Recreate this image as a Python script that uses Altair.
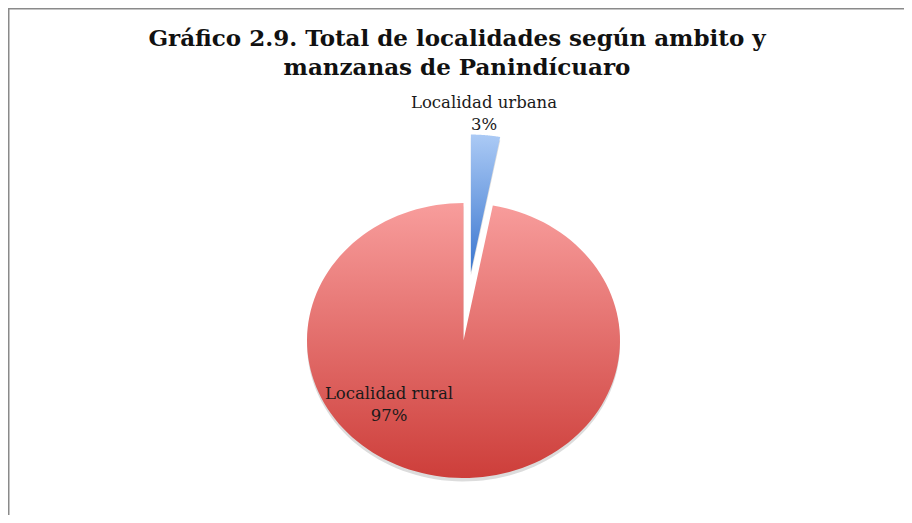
import altair as alt
import pandas as pd

# ---- data ----
categories = ["Localidad urbana", "Localidad rural"]
shares = [3, 97]
title_lines = ["Gráfico 2.9. Total de localidades según ambito y",
               "manzanas de Panindícuaro"]

df = pd.DataFrame({"cat": categories, "share": shares})

# ---- layout (page pixels) ----
W, H = 896, 507
cx_page, cy_page = 463.5, 340.5     # pie centre
rx, ry = 156.5, 137.5               # pie radii (elliptical, as in the reference)
xmin = -(cx_page - 8) / rx
xmax = xmin + W / rx
ymax = (cy_page - 8) / ry
ymin = ymax - H / ry
xs = alt.Scale(domain=[xmin, xmax], nice=False, zero=False)
ys = alt.Scale(domain=[ymin, ymax], nice=False, zero=False)

N = 140
base = (
    alt.Chart(df)
    .transform_window(cum="sum(share)", frame=[None, 0])
    .transform_calculate(start="datum.cum - datum.share",
                         pts=f"sequence(0, {N + 2})")
    .transform_flatten(["pts"])
    .transform_calculate(
        ang=f"2*PI*(datum.start + datum.share*(datum.pts-1)/{N})/100",
        r="datum.pts == 0 ? 0 : 1",
        mid="2*PI*(datum.start + datum.share/2)/100",
        ex="datum.cat == 'Localidad urbana' ? 0.5 : 0",
        px="datum.r*sin(datum.ang) + datum.ex*sin(datum.mid)",
        py="datum.r*cos(datum.ang) + datum.ex*cos(datum.mid)",
        pys="datum.py - 0.025",
    )
)

def grad(c0, c1):
    return alt.Gradient(gradient="linear",
                        stops=[alt.GradientStop(color=c0, offset=0),
                               alt.GradientStop(color=c1, offset=1)],
                        x1=0, x2=0, y1=0, y2=1)

def wedge(cat, fill, ycol="py", opacity=1.0):
    return (base.transform_filter(f"datum.cat == '{cat}'")
            .mark_line(fill=fill, strokeWidth=0, opacity=opacity)
            .encode(x=alt.X("px:Q", scale=xs, axis=None),
                    y=alt.Y(f"{ycol}:Q", scale=ys, axis=None),
                    order=alt.Order("pts:Q")))

shadow_r = wedge("Localidad rural", "#9a9a9a", "pys", 0.35)
shadow_u = wedge("Localidad urbana", "#9a9a9a", "pys", 0.35)
rural = wedge("Localidad rural", grad("#f89d9c", "#cd3e3a"))
urban = wedge("Localidad urbana", grad("#abcaf5", "#3a76cf"))

def label(cat, xp, yp):
    return (alt.Chart(df).transform_filter(f"datum.cat == '{cat}'")
            .transform_calculate(lab="[datum.cat, datum.share + '%']")
            .mark_text(font="DejaVu Serif", fontSize=16.5, color="#1a1a1a",
                       align="center", baseline="alphabetic", lineHeight=22)
            .encode(text="lab:N", x=alt.value(xp - 8), y=alt.value(yp - 8)))

lab_u = label("Localidad urbana", 484, 108)
lab_r = label("Localidad rural", 389, 399)

title = (alt.Chart(df.head(1))
         .mark_text(text=title_lines, font="DejaVu Serif", fontSize=23,
                    fontWeight="bold", color="#111111", align="center",
                    baseline="alphabetic", lineHeight=29)
         .encode(x=alt.value(457 - 8), y=alt.value(46 - 8)))

border_top = (alt.Chart(df.head(1)).mark_rule(color="#8a8a8a", strokeWidth=1.5)
              .encode(x=alt.value(0), x2=alt.value(W), y=alt.value(0.75)))
border_left = (alt.Chart(df.head(1)).mark_rule(color="#8a8a8a", strokeWidth=1.5)
               .encode(x=alt.value(0.75), y=alt.value(0), y2=alt.value(H)))

chart = (
    alt.layer(border_top, border_left, shadow_r, shadow_u, rural, urban,
              lab_u, lab_r, title)
    .properties(width=W, height=H, padding=0,
                autosize=alt.AutoSizeParams(type="none"),
                background="white")
    .configure_view(strokeWidth=0)
)

chart.save("out.html", embed_options={"renderer": "svg", "actions": False})
